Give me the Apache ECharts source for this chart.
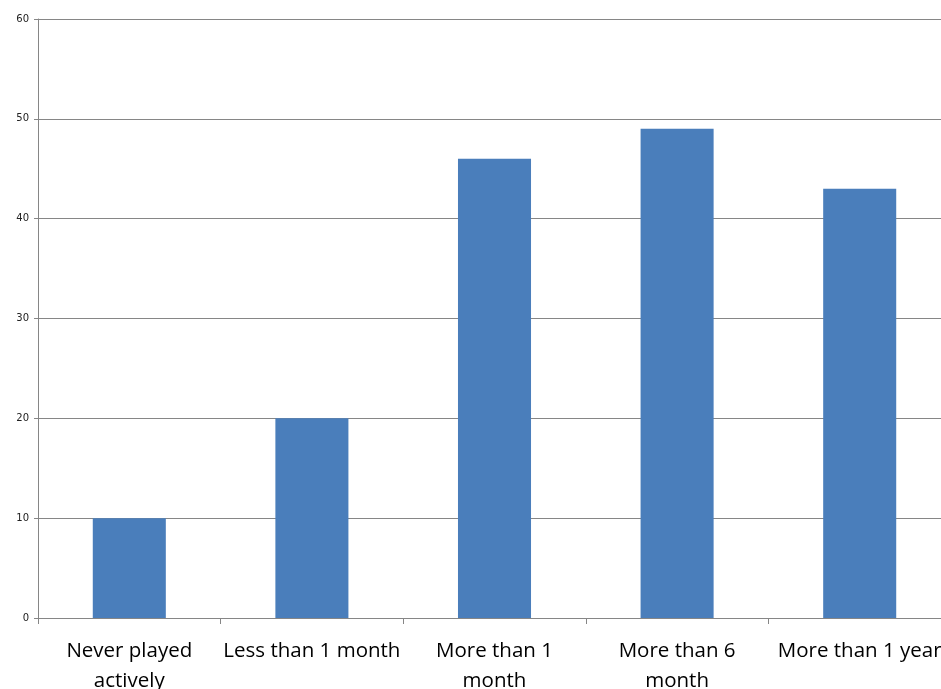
<!DOCTYPE html>
<html>
<head>
<meta charset="utf-8">
<script src="https://cdn.jsdelivr.net/npm/echarts@6/dist/echarts.min.js"></script>
<style>
  html, body { margin: 0; padding: 0; background: #fff; }
  #chart { width: 941px; height: 689px; }
</style>
</head>
<body>
<div id="chart"></div>
<script>
// Categories (how long the respondent has played) and respondent counts
const categories = ['Never played\nactively', 'Less than 1 month', 'More than 1\nmonth', 'More than 6\nmonth', 'More than 1 year'];
const counts = [10, 20, 46, 49, 43];
const yTicks = { min: 0, max: 60, interval: 10 };

const chart = echarts.init(document.getElementById('chart'), null, { renderer: 'canvas' });
chart.setOption({
  animation: false,
  backgroundColor: '#ffffff',
  grid: { left: 38, top: 19, bottom: 71, right: -10, containLabel: false, outerBoundsMode: 'none' },
  xAxis: {
    type: 'category',
    data: categories,
    axisLine: { show: true, lineStyle: { color: '#868686', width: 1 } },
    axisTick: { show: true, length: 6, lineStyle: { color: '#868686' }, alignWithLabel: false },
    axisLabel: {
      interval: 0,
      margin: 18,
      color: '#000000',
      fontFamily: 'Open Sans, Lato, sans-serif',
      fontSize: 20.5,
      lineHeight: 30
    }
  },
  yAxis: {
    type: 'value',
    min: yTicks.min,
    max: yTicks.max,
    interval: yTicks.interval,
    axisLine: { show: true, lineStyle: { color: '#868686', width: 1 } },
    axisTick: { show: true, length: 4, lineStyle: { color: '#868686' } },
    splitLine: { show: true, lineStyle: { color: '#868686', width: 1 } },
    axisLabel: {
      margin: 9,
      color: '#222222',
      fontFamily: 'DejaVu Sans, sans-serif',
      fontSize: 10
    }
  },
  series: [{
    type: 'bar',
    data: counts,
    barWidth: '40%',
    itemStyle: { color: '#4a7ebb' }
  }]
});
</script>
</body>
</html>
